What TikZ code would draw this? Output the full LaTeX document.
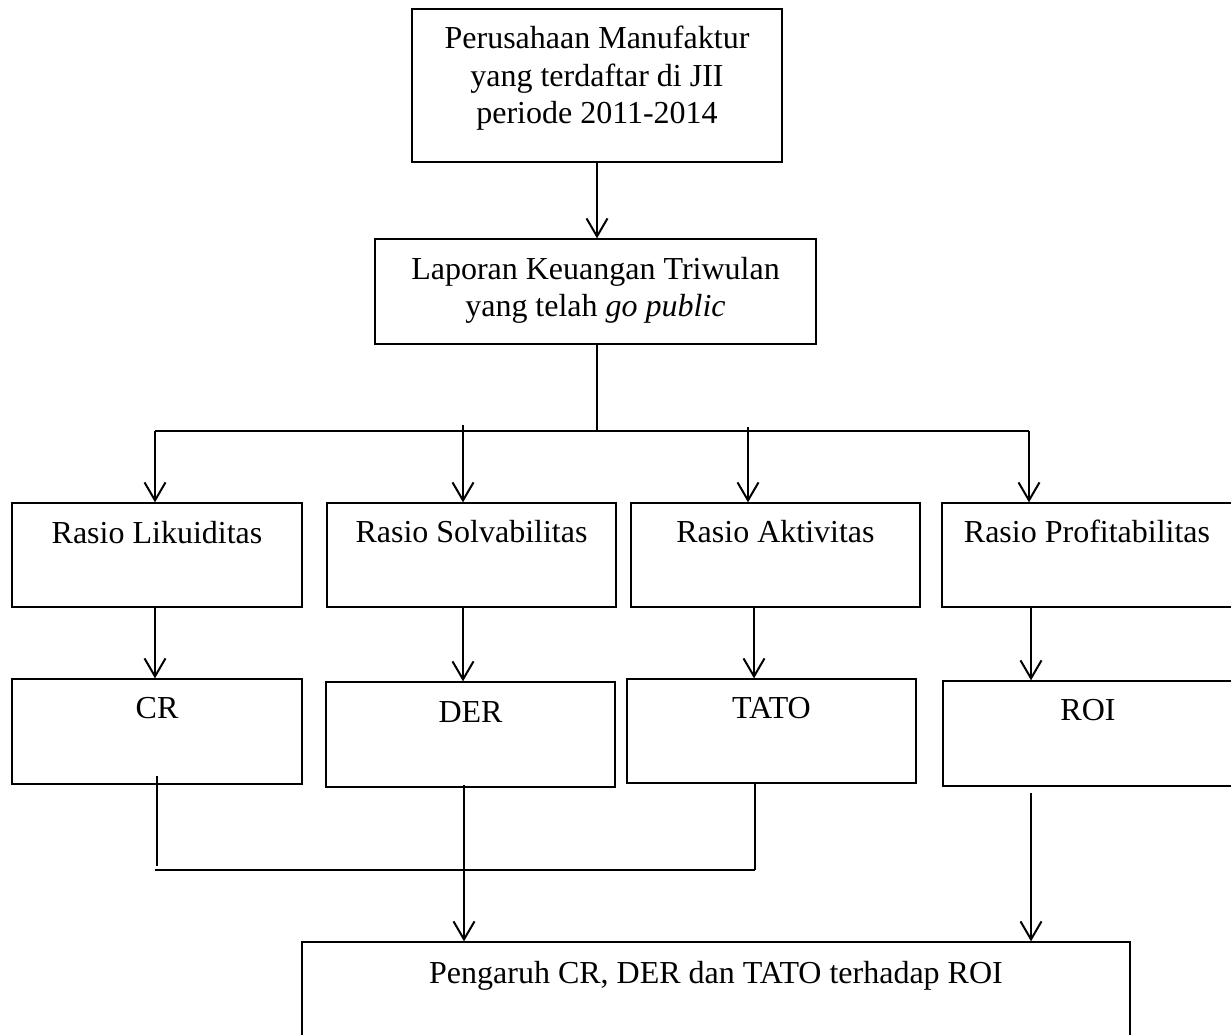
\documentclass[tikz,border=0pt]{standalone}
\usepackage{fontspec}
\setmainfont{Liberation Serif}
\usetikzlibrary{arrows.meta}
\begin{document}
\begin{tikzpicture}[x=1pt,y=-1pt,
  box/.style={draw, line width=1.3pt, inner sep=0pt, rectangle},
  txt/.style={inner sep=0pt, font=\fontsize{32}{37.5}\selectfont, align=center},
  conn/.style={line width=2pt},
  arr/.style={conn, -{Straight Barb[length=18pt,width=21pt,line width=2pt]}}]
\useasboundingbox (0,0) rectangle (1231,1034);
\clip (0,0) rectangle (1231,1034);
\fill[white] (0,0) rectangle (1231,1034);

% boxes
\node[box, minimum width=370pt, minimum height=153pt] (A) at (597,85.5) {};
\node[box, minimum width=441pt, minimum height=105pt] (B) at (595.5,291.5) {};
\node[box, minimum width=290pt, minimum height=104pt] (R1) at (157,555) {};
\node[box, minimum width=289pt, minimum height=104pt] (R2) at (471.5,555) {};
\node[box, minimum width=289pt, minimum height=104pt] (R3) at (775.5,555) {};
\node[box, minimum width=290pt, minimum height=104pt] (R4) at (1087,555) {};
\node[box, minimum width=290pt, minimum height=105pt] (S1) at (157,731.5) {};
\node[box, minimum width=289pt, minimum height=105pt] (S2) at (470.5,734.5) {};
\node[box, minimum width=289pt, minimum height=104pt] (S3) at (771.5,731) {};
\node[box, minimum width=290pt, minimum height=105pt] (S4) at (1088,733.5) {};
\node[box, minimum width=828pt, minimum height=120pt] (F) at (716,1002) {};

% texts
\node[txt, anchor=north] (tA) at (597,26) {Perusahaan Manufaktur\\yang terdaftar di JII\\periode 2011-2014};
\node[txt, anchor=north] (tB) at (595.5,257) {Laporan Keuangan Triwulan\\yang telah \textit{go public}};
\node[txt, anchor=base] (tR1) at (157,543) {Rasio Likuiditas};
\node[txt, anchor=base] (tR2) at (471.5,542) {Rasio Solvabilitas};
\node[txt, anchor=base] (tR3) at (775.5,542) {Rasio Aktivitas};
\node[txt, anchor=base] (tR4) at (1087,542) {Rasio Profitabilitas};
\node[txt, anchor=base] (tS1) at (157,718) {CR};
\node[txt, anchor=base] (tS2) at (470.5,722) {DER};
\node[txt, anchor=base] (tS3) at (771.5,718) {TATO};
\node[txt, anchor=base] (tS4) at (1088,720) {ROI};
\node[txt, anchor=base] (tF) at (716,983) {Pengaruh CR, DER dan TATO terhadap ROI};

% junction coordinates
\coordinate (j0) at (597,431);
\coordinate (j1) at (155,431);
\coordinate (j2) at (463,431);
\coordinate (j3) at (748,431);
\coordinate (j4) at (1029,431);
\coordinate (k3) at (754,607);
\coordinate (k4) at (1031,607);
\coordinate (m1) at (157,776);
\coordinate (m1e) at (157,866);
\coordinate (m2) at (155,870);
\coordinate (m3) at (755,870);
\coordinate (d) at (464,785);
\coordinate (r) at (1031,793);

% connectors
\draw[arr] (A.south) -- (A.south |- B.north);
\draw[conn] (j0 |- B.south) -- (j0);
\draw[conn] (j1) -- (j4);
\draw[arr] (j1) -- (j1 |- R1.north);
\draw[arr] ([yshift=6pt]j2) -- (j2 |- R2.north);
\draw[arr] ([yshift=4pt]j3) -- (j3 |- R3.north);
\draw[arr] (j4) -- (j4 |- R4.north);

\draw[arr] (R1.south -| j1) -- (S1.north -| j1);
\draw[arr] (R2.south -| j2) -- (S2.north -| j2);
\draw[arr] (k3) -- (k3 |- S3.north);
\draw[arr] (k4) -- (k4 |- S4.north);

\draw[conn] (m1) -- (m1e);
\draw[conn, line width=2.6pt] (m2) -- (m3);
\draw[conn] (m3 |- S3.south) -- (m3);
\draw[arr] (d) -- (d |- F.north);
\draw[arr] (r) -- (r |- F.north);
\end{tikzpicture}
\end{document}
